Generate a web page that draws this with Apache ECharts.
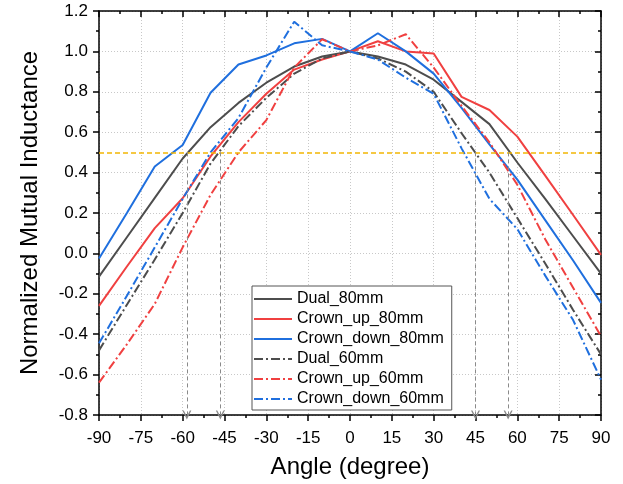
<!DOCTYPE html>
<html>
<head>
<meta charset="utf-8">
<script src="https://cdn.jsdelivr.net/npm/echarts@6/dist/echarts.min.js"></script>
<style>
  html, body { margin: 0; padding: 0; background: #fff; }
  #chart { width: 623px; height: 484px; }
</style>
</head>
<body>
<div id="chart"></div>
<script>
const angles = [-90, -80, -70, -60, -50, -40, -30, -20, -10, 0, 10, 20, 30, 40, 50, 60, 70, 80, 90];

const dual80 = [-0.115, 0.08, 0.275, 0.47, 0.625, 0.745, 0.845, 0.925, 0.975, 1.0, 0.975, 0.935, 0.86, 0.75, 0.64, 0.45, 0.27, 0.085, -0.10];
const crownUp80 = [-0.26, -0.065, 0.125, 0.273, 0.48, 0.65, 0.79, 0.91, 0.96, 1.0, 1.05, 1.0, 0.99, 0.775, 0.71, 0.578, 0.385, 0.19, -0.007];
const crownDown80 = [-0.025, 0.2, 0.43, 0.537, 0.795, 0.935, 0.98, 1.04, 1.062, 1.0, 1.09, 1.0, 0.89, 0.72, 0.54, 0.365, 0.165, -0.035, -0.245];
const dual60 = [-0.48, -0.254, -0.03, 0.2, 0.445, 0.63, 0.77, 0.89, 0.965, 1.0, 0.965, 0.9, 0.8, 0.595, 0.4, 0.175, -0.05, -0.28, -0.5];
const crownUp60 = [-0.64, -0.45, -0.25, 0.03, 0.29, 0.5, 0.66, 0.92, 1.06, 1.0, 1.03, 1.085, 0.92, 0.73, 0.55, 0.34, 0.07, -0.17, -0.41];
const crownDown60 = [-0.445, -0.21, 0.03, 0.27, 0.5, 0.67, 0.92, 1.147, 1.03, 1.0, 0.96, 0.87, 0.79, 0.52, 0.27, 0.12, -0.11, -0.33, -0.625];

// half-power crossing angles marked with arrows
const markerAngles = [-58.5, -46.5, 45, 56.7];
const threshold = 0.5;

const xTicks = { min: -90, max: 90, interval: 15 };
const yTicks = { min: -0.8, max: 1.2, interval: 0.2 };

const FONT = "'Liberation Sans', Arial, sans-serif";
const DASH_DOT = [9, 3, 2, 3];

const seriesDefs = [
  { name: "Dual_80mm", data: dual80, color: "#4d4d4d", dash: "solid" },
  { name: "Crown_up_80mm", data: crownUp80, color: "#f04040", dash: "solid" },
  { name: "Crown_down_80mm", data: crownDown80, color: "#1f6fde", dash: "solid" },
  { name: "Dual_60mm", data: dual60, color: "#4d4d4d", dash: DASH_DOT },
  { name: "Crown_up_60mm", data: crownUp60, color: "#f04040", dash: DASH_DOT },
  { name: "Crown_down_60mm", data: crownDown60, color: "#1f6fde", dash: DASH_DOT },
];

const arrowHead = "path://M5,0L10,9L8.4,9L5,3.2L1.6,9L0,9Z";

const markLine = {
  silent: true,
  symbol: ["none", "none"],
  label: { show: false },
  data: [
    { yAxis: threshold, lineStyle: { color: "#f2b705", type: [5, 3], width: 1.5 } },
    ...markerAngles.map((a) => [
      { coord: [a, threshold], symbol: "none", lineStyle: { color: "#8a8a8a", type: [4, 3], width: 1 } },
      { coord: [a, yTicks.min], symbol: arrowHead, symbolSize: [9, 9] },
    ]),
  ],
};

const series = seriesDefs.map((s, i) => ({
  name: s.name,
  type: "line",
  symbol: "none",
  data: angles.map((a, j) => [a, s.data[j]]),
  lineStyle: { color: s.color, width: 2, type: s.dash },
  itemStyle: { color: s.color },
  markLine: i === 0 ? markLine : undefined,
  z: 3,
}));

const baseX = {
  type: "value",
  min: xTicks.min,
  max: xTicks.max,
  interval: xTicks.interval,
  axisLine: { show: true, onZero: false, lineStyle: { color: "#000", width: 1.5 } },
};
const baseY = {
  type: "value",
  min: yTicks.min,
  max: yTicks.max,
  interval: yTicks.interval,
  axisLine: { show: true, onZero: false, lineStyle: { color: "#000", width: 1.5 } },
};

const chart = echarts.init(document.getElementById("chart"));

chart.setOption({
  animation: false,
  backgroundColor: "#fff",
  textStyle: { fontFamily: FONT },
  grid: { left: 99, right: 22, top: 11, bottom: 69 },
  legend: {
    orient: "vertical",
    left: 252,
    top: 286,
    backgroundColor: "#fff",
    borderColor: "#555",
    borderWidth: 1,
    borderRadius: 0,
    padding: [3, 8, 1, 1],
    itemGap: 0,
    itemWidth: 38,
    itemHeight: 14,
    itemStyle: { opacity: 0 },
    textStyle: { fontFamily: FONT, fontSize: 16, color: "#000", lineHeight: 20 },
    data: seriesDefs.map((s) => s.name),
  },
  xAxis: [
    {
      ...baseX,
      position: "bottom",
      name: "Angle (degree)",
      nameLocation: "middle",
      nameGap: 40,
      nameTextStyle: { fontFamily: FONT, fontSize: 24, color: "#000" },
      axisTick: { show: true, inside: false, length: 6, lineStyle: { color: "#000", width: 1.5 } },
      minorTick: { show: true, splitNumber: 2, length: 3, lineStyle: { color: "#000", width: 1.5 } },
      axisLabel: { fontFamily: FONT, fontSize: 17, color: "#000", margin: 15 },
      splitLine: { show: true, lineStyle: { color: "#c8c8c8", type: [1, 2], width: 1 } },
    },
    {
      ...baseX,
      position: "top",
      axisTick: { show: true, inside: true, length: 6, lineStyle: { color: "#000", width: 1.5 } },
      minorTick: { show: true, splitNumber: 2, length: 3, lineStyle: { color: "#000", width: 1.5 } },
      axisLabel: { show: false },
      splitLine: { show: false },
    },
  ],
  yAxis: [
    {
      ...baseY,
      position: "left",
      name: "Normalized Mutual Inductance",
      nameLocation: "middle",
      nameGap: 57,
      nameTextStyle: { fontFamily: FONT, fontSize: 24, color: "#000" },
      axisTick: { show: true, inside: false, length: 6, lineStyle: { color: "#000", width: 1.5 } },
      minorTick: { show: true, splitNumber: 2, length: 3, lineStyle: { color: "#000", width: 1.5 } },
      axisLabel: {
        fontFamily: FONT,
        fontSize: 17,
        color: "#000",
        margin: 11,
        formatter: (v) => v.toFixed(1),
      },
      splitLine: { show: true, lineStyle: { color: "#c8c8c8", type: [1, 2], width: 1 } },
    },
    {
      ...baseY,
      position: "right",
      axisTick: { show: true, inside: true, length: 6, lineStyle: { color: "#000", width: 1.5 } },
      minorTick: { show: true, splitNumber: 2, length: 3, lineStyle: { color: "#000", width: 1.5 } },
      axisLabel: { show: false },
      splitLine: { show: false },
    },
  ],
  series,
});
</script>
</body>
</html>
